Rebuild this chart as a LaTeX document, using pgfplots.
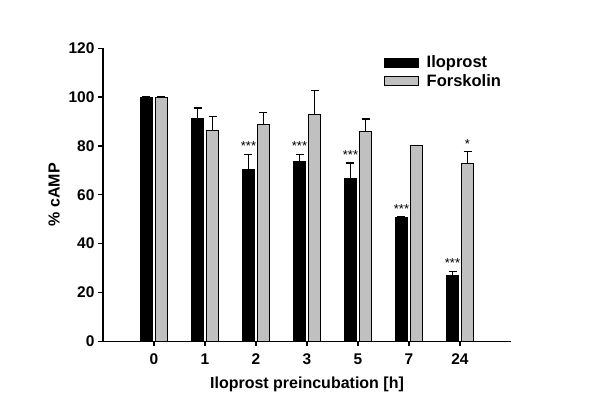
\documentclass[border=0pt]{standalone}
\usepackage{fontspec}
\setmainfont{Liberation Sans}
\usepackage{pgfplots}
\pgfplotsset{compat=1.18}
\definecolor{fgray}{RGB}{192,192,192}
\begin{document}
\begin{tikzpicture}
\path[use as bounding box] (0,0) rectangle (600pt,415pt);
\begin{axis}[
  at={(103pt,73.7pt)}, anchor=south west,
  scale only axis, width=408pt, height=293pt,
  xmin=-1, xmax=7, ymin=0, ymax=120,
  ybar=3.5pt, bar width=11.5pt,
  axis lines=left, axis line style={line width=1.3pt, -},
  xtick={0,1,2,3,4,5,6}, xticklabels={0,1,2,3,5,7,24},
  ytick={0,20,40,60,80,100,120},
  tick align=outside, tick style={line width=1.3pt, black},
  major tick length=5pt,
  /pgf/number format/assume math mode=true,
  ticklabel style={font=\fontsize{15.5}{17}\selectfont\bfseries},
  xticklabel style={yshift=-4pt},
  xlabel={Iloprost preincubation [h]},
  ylabel={\% cAMP},
  label style={font=\fontsize{16}{18}\selectfont\bfseries},
  xlabel style={yshift=-5pt},
  ylabel style={yshift=2pt},
  legend style={draw=none, fill=none, at={(axis description cs:0.685,0.985)}, anchor=north west,
    font=\fontsize{16.5}{19}\selectfont\bfseries, row sep=1pt, inner sep=1pt},
  legend cell align=left,
  clip=false,
]
\addplot[draw=black, fill=black, line width=1pt,
  legend image code/.code={\draw[fill=black, draw=black, line width=1pt] (0pt,-4.5pt) rectangle (34pt,4.5pt);},
  error bars/.cd, y dir=plus, y explicit,
  error bar style={line width=1.3pt, black},
  error mark options={rotate=90, mark size=4pt, line width=1.3pt}]
  coordinates {
  (0,100) +- (0,0)
  (1,91.3) +- (0,4.2)
  (2,70.4) +- (0,6.0)
  (3,73.8) +- (0,2.6)
  (4,66.6) +- (0,6.4)
  (5,50.6) +- (0,0.3)
  (6,27.0) +- (0,1.7)
  };
\addlegendentry{\hspace{6pt}Iloprost}
\addplot[draw=black, fill=fgray, line width=1pt,
  legend image code/.code={\draw[fill=fgray, draw=black, line width=1pt] (0pt,-4.5pt) rectangle (34pt,4.5pt);},
  error bars/.cd, y dir=plus, y explicit,
  error bar style={line width=1.3pt, black},
  error mark options={rotate=90, mark size=4pt, line width=1.3pt}]
  coordinates {
  (0,100) +- (0,0)
  (1,86.2) +- (0,5.8)
  (2,88.7) +- (0,5.1)
  (3,93.0) +- (0,9.6)
  (4,86.0) +- (0,5.0)
  (5,80.0) +- (0,0.3)
  (6,72.9) +- (0,4.7)
  };
\addlegendentry{\hspace{6pt}Forskolin}
\node[font=\fontsize{13}{14}\selectfont] at (axis cs:2,76.5) [xshift=-7.5pt, anchor=south] {***};
\node[font=\fontsize{13}{14}\selectfont] at (axis cs:3,76.5) [xshift=-7.5pt, anchor=south] {***};
\node[font=\fontsize{13}{14}\selectfont] at (axis cs:4,73) [xshift=-7.5pt, anchor=south] {***};
\node[font=\fontsize{13}{14}\selectfont] at (axis cs:5,51) [xshift=-7.5pt, anchor=south] {***};
\node[font=\fontsize{13}{14}\selectfont] at (axis cs:6,28.6) [xshift=-7.5pt, anchor=south] {***};
\node[font=\fontsize{13}{14}\selectfont] at (axis cs:6,77.6) [xshift=7.5pt, anchor=south] {*};
\end{axis}
\end{tikzpicture}
\end{document}
